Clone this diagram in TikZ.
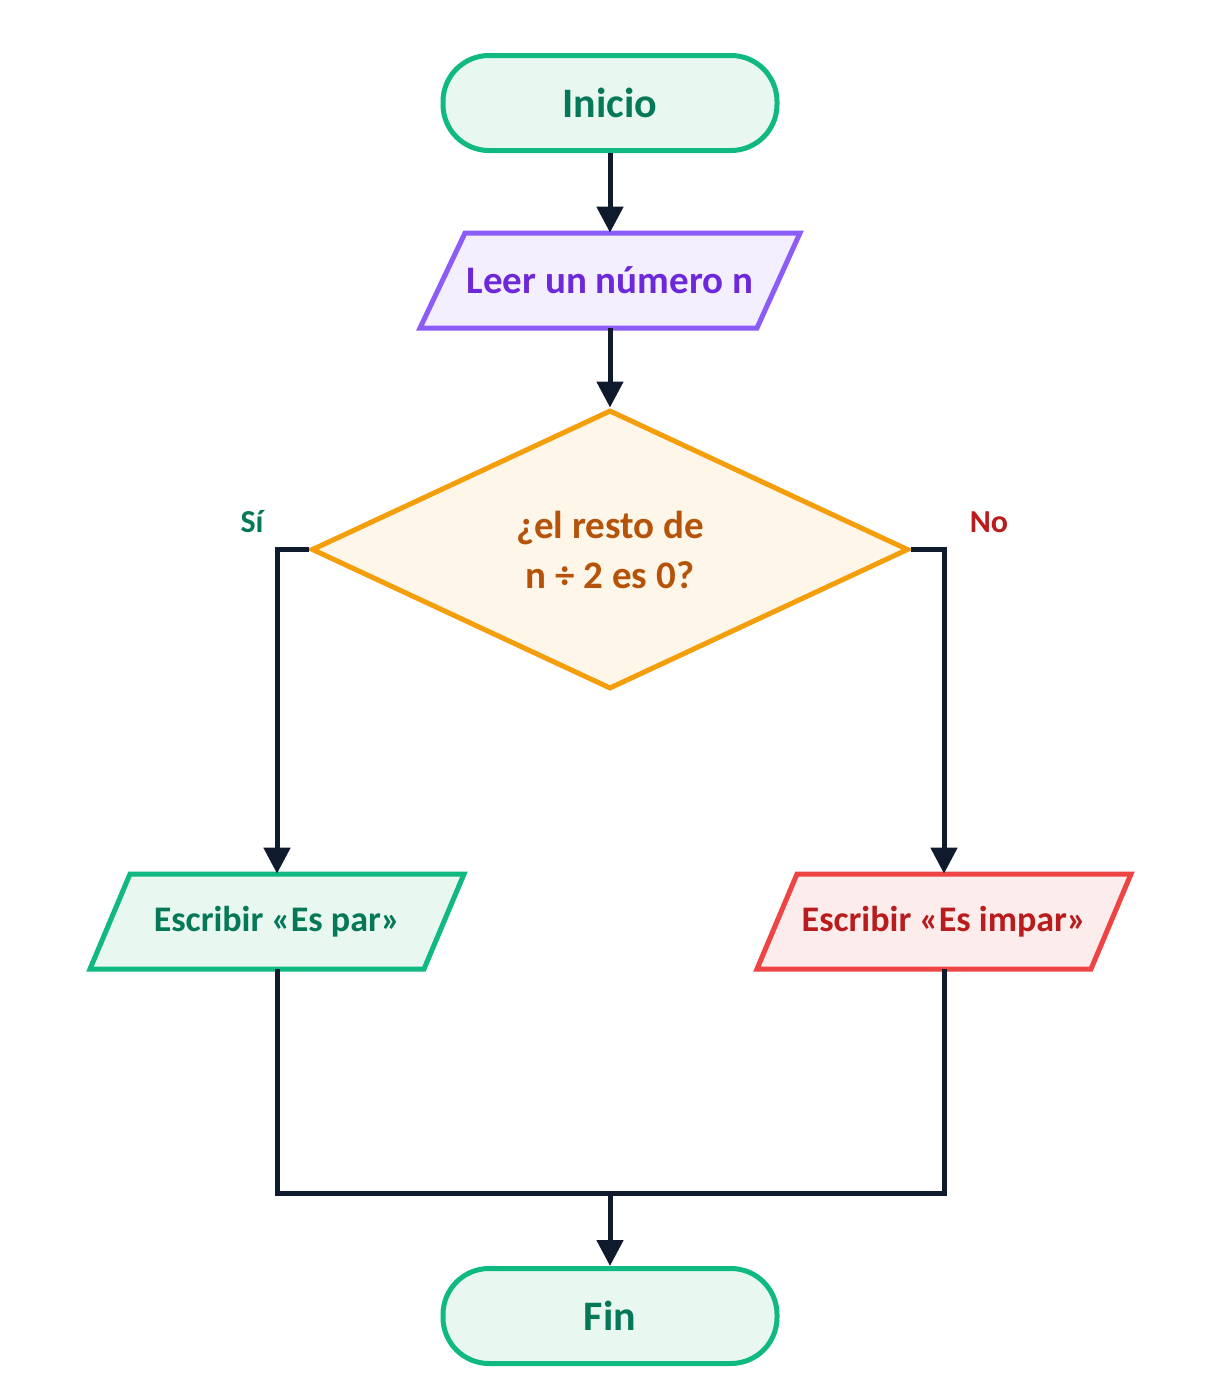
\documentclass[tikz,border=0pt]{standalone}
\usepackage{fontspec}
\setmainfont{Carlito}
\usetikzlibrary{shapes.geometric,arrows.meta}
\definecolor{lineC}{HTML}{0F1B2D}
\definecolor{grS}{HTML}{10B981}\definecolor{grF}{HTML}{E8F8F1}\definecolor{grT}{HTML}{047857}
\definecolor{puS}{HTML}{8B5CF6}\definecolor{puF}{HTML}{F3EFFE}\definecolor{puT}{HTML}{6D28D9}
\definecolor{orS}{HTML}{F59E0B}\definecolor{orF}{HTML}{FEF7E9}\definecolor{orT}{HTML}{B45309}
\definecolor{reS}{HTML}{EF4444}\definecolor{reF}{HTML}{FDECEC}\definecolor{reT}{HTML}{B91C1C}
\begin{document}
\begin{tikzpicture}[x=0.5pt,y=-0.5pt,
terminal/.style={draw=grS,fill=grF,text=grT,line width=2.5pt,rounded corners=23pt,minimum width=167pt,minimum height=47.5pt,font=\fontsize{21}{25}\selectfont\bfseries},
io/.style={minimum width=167pt,minimum height=47.5pt,inner sep=0pt},
ioshape/.style={line width=2.5pt,line join=miter},
decision/.style={diamond,draw=orS,fill=orF,text=orT,line width=2.5pt,minimum width=298.5pt,minimum height=139.5pt,inner sep=0pt,align=center,font=\fontsize{19.5}{25}\selectfont\bfseries},
flow/.style={draw=lineC,line width=2.5pt},
arrow/.style={flow,-{Triangle[width=13pt,length=13pt]}},
branch/.style={font=\fontsize{16}{19}\selectfont\bfseries},
]
\useasboundingbox (0,0) rectangle (1222,1389);
%parallelograms
\filldraw[ioshape,draw=puS,fill=puF](465,233)--(800,233)--(757,328)--(420,328)--cycle;
\filldraw[ioshape,draw=grS,fill=grF](130,874)--(464,874)--(424,969)--(90,969)--cycle;
\filldraw[ioshape,draw=reS,fill=reF](797,874)--(1131,874)--(1091,969)--(757,969)--cycle;
%nodes
\node[terminal](start)at(610,103){Inicio};
\node[io,text=puT,font=\fontsize{19.5}{22}\selectfont\bfseries](read)at(610,280.5){Leer un número n};
\node[decision](test)at(610,549.5){¿el resto de\\n ÷ 2 es 0?};
\node[io,text=grT,font=\fontsize{18}{21}\selectfont\bfseries](even)at(277,921.5){Escribir «Es par»};
\node[io,text=reT,font=\fontsize{18}{21}\selectfont\bfseries](odd)at(944,921.5){Escribir «Es impar»};
\node[terminal](stop)at(610,1316){Fin};
\coordinate(join)at(610,1193);
%labels
\node[branch,text=grT](yes)at(252,522){Sí};
\node[branch,text=reT](no)at(989,522){No};
%connectors
\draw[arrow](start)--(read);
\draw[arrow](read)--(test);
\draw[arrow](test.west)-|(even.north);
\draw[arrow](test.east)-|(odd.north);
\draw[flow](even.south)|-(join)-|(odd.south);
\draw[arrow](join)--(stop);
\end{tikzpicture}
\end{document}
